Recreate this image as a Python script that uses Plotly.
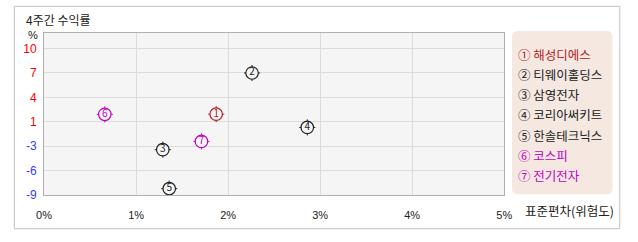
import plotly.graph_objects as go

# ---- data ----
names = ["해성디에스", "티웨이홀딩스", "삼영전자", "코리아써키트", "한솔테크닉스", "코스피", "전기전자"]
circled = ["①", "②", "③", "④", "⑤", "⑥", "⑦"]
digits = ["1", "2", "3", "4", "5", "6", "7"]
risk_std = [1.87, 2.26, 1.29, 2.86, 1.36, 0.66, 1.71]      # x: 표준편차 (%)
ret_4w = [1.5, 6.83, -3.1, -0.22, -8.15, 1.47, -2.03]     # y: 4주간 수익률 (%)
colors = ["#b22222", "#222222", "#222222", "#222222", "#222222", "#c000c0", "#c000c0"]

x_tick_vals = [0, 1, 2, 3, 4, 5]
x_tick_labels = ["0%", "1%", "2%", "3%", "4%", "5%"]
y_tick_labels = [-9, -6, -3, 1, 4, 7, 10]

W, H = 638, 242
def px(x): return x / W
def py(y): return 1 - y / H

y_min, y_max = -9, 10
y_tick_vals = [y_min + i * (y_max - y_min) / 6 for i in range(7)]
y_top = 12.01

def ycol(v):
    return "#ff0000" if v > 0 else "#3a3aff"

y_tick_text = [f"<span style='color:{ycol(v)}'>{v}</span>" for v in y_tick_labels]

FONT = "Noto Sans CJK KR"
BG = "#f5f5f5"

fig = go.Figure()

# tick stubs (cross under the filled circle)
fig.add_trace(go.Scatter(
    x=risk_std, y=ret_4w, mode="markers",
    marker=dict(symbol="cross-thin-open", size=11.5, color=colors, line=dict(color=colors, width=1)),
    hoverinfo="skip", showlegend=False))
# circles with digits
fig.add_trace(go.Scatter(
    x=risk_std, y=ret_4w, mode="markers+text",
    text=digits, textposition="middle center",
    textfont=dict(family=FONT, size=10, color=colors),
    marker=dict(symbol="circle", size=12.5, color=BG, line=dict(color=colors, width=1.2)),
    hovertext=names, showlegend=False))

shapes = []
# outer border
shapes.append(dict(type="rect", xref="paper", yref="paper",
                   x0=px(6.5), x1=px(627.5), y0=py(235.5), y1=py(6.5),
                   line=dict(color="#c0c0c0", width=1), fillcolor="rgba(0,0,0,0)", layer="below"))
# legend box (rounded)
lx0, lx1, ly0, ly1, r = 517, 620, 32, 200, 6
rx, ry = r / W, r / H
X0, X1, Yt, Yb = px(lx0), px(lx1), py(ly0), py(ly1)
path = (f"M {X0+rx},{Yt} L {X1-rx},{Yt} Q {X1},{Yt} {X1},{Yt-ry} "
        f"L {X1},{Yb+ry} Q {X1},{Yb} {X1-rx},{Yb} L {X0+rx},{Yb} "
        f"Q {X0},{Yb} {X0},{Yb+ry} L {X0},{Yt-ry} Q {X0},{Yt} {X0+rx},{Yt} Z")
shapes.append(dict(type="path", xref="paper", yref="paper", path=path,
                   fillcolor="#f5e8e1", line=dict(width=0), layer="below"))

annotations = []
annotations.append(dict(text="4주간 수익률", xref="paper", yref="paper", x=px(16), y=py(20.5),
                        xanchor="left", yanchor="middle", showarrow=False,
                        font=dict(family=FONT, size=12, color="#222")))
annotations.append(dict(text="%", xref="paper", yref="paper", x=px(26), y=py(36),
                        xanchor="center", yanchor="middle", showarrow=False,
                        font=dict(family="Liberation Sans", size=11, color="#222")))
annotations.append(dict(text="표준편차(위험도)", xref="paper", yref="paper", x=px(528), y=py(217),
                        xanchor="left", yanchor="middle", showarrow=False,
                        font=dict(family=FONT, size=12.5, color="#222")))
for i, (c, n, col) in enumerate(zip(circled, names, colors)):
    annotations.append(dict(text=f"{c} {n}", xref="paper", yref="paper",
                            x=px(521), y=py(56 + i * 20.8),
                            xanchor="left", yanchor="middle", showarrow=False,
                            font=dict(family=FONT, size=12.5, color=col)))

fig.update_layout(
    width=W, height=H, margin=dict(l=0, r=0, t=0, b=0),
    paper_bgcolor="white", plot_bgcolor=BG,
    showlegend=False, shapes=shapes, annotations=annotations,
    xaxis=dict(domain=[px(37), px(509)], range=[0, 5], tickvals=x_tick_vals, ticktext=x_tick_labels,
               showgrid=True, gridcolor="#dcdcdc", gridwidth=1, zeroline=False,
               showline=True, mirror=True, linecolor="#b0b0b0", linewidth=1,
               ticks="", ticklabelstandoff=10,
               tickfont=dict(family="Liberation Sans", size=11, color="#222"), fixedrange=True),
    yaxis=dict(domain=[1 - 201 / H, 1 - 34 / H], range=[y_min, y_top], tickvals=y_tick_vals,
               ticktext=y_tick_text, showgrid=True, gridcolor="#dcdcdc", gridwidth=1, zeroline=False,
               showline=True, mirror=True, linecolor="#b0b0b0", linewidth=1,
               ticks="", ticklabelstandoff=4,
               tickfont=dict(family="Liberation Sans", size=12, color="#222"), fixedrange=True),
)

fig.write_html("out.html", config={"displayModeBar": False})
